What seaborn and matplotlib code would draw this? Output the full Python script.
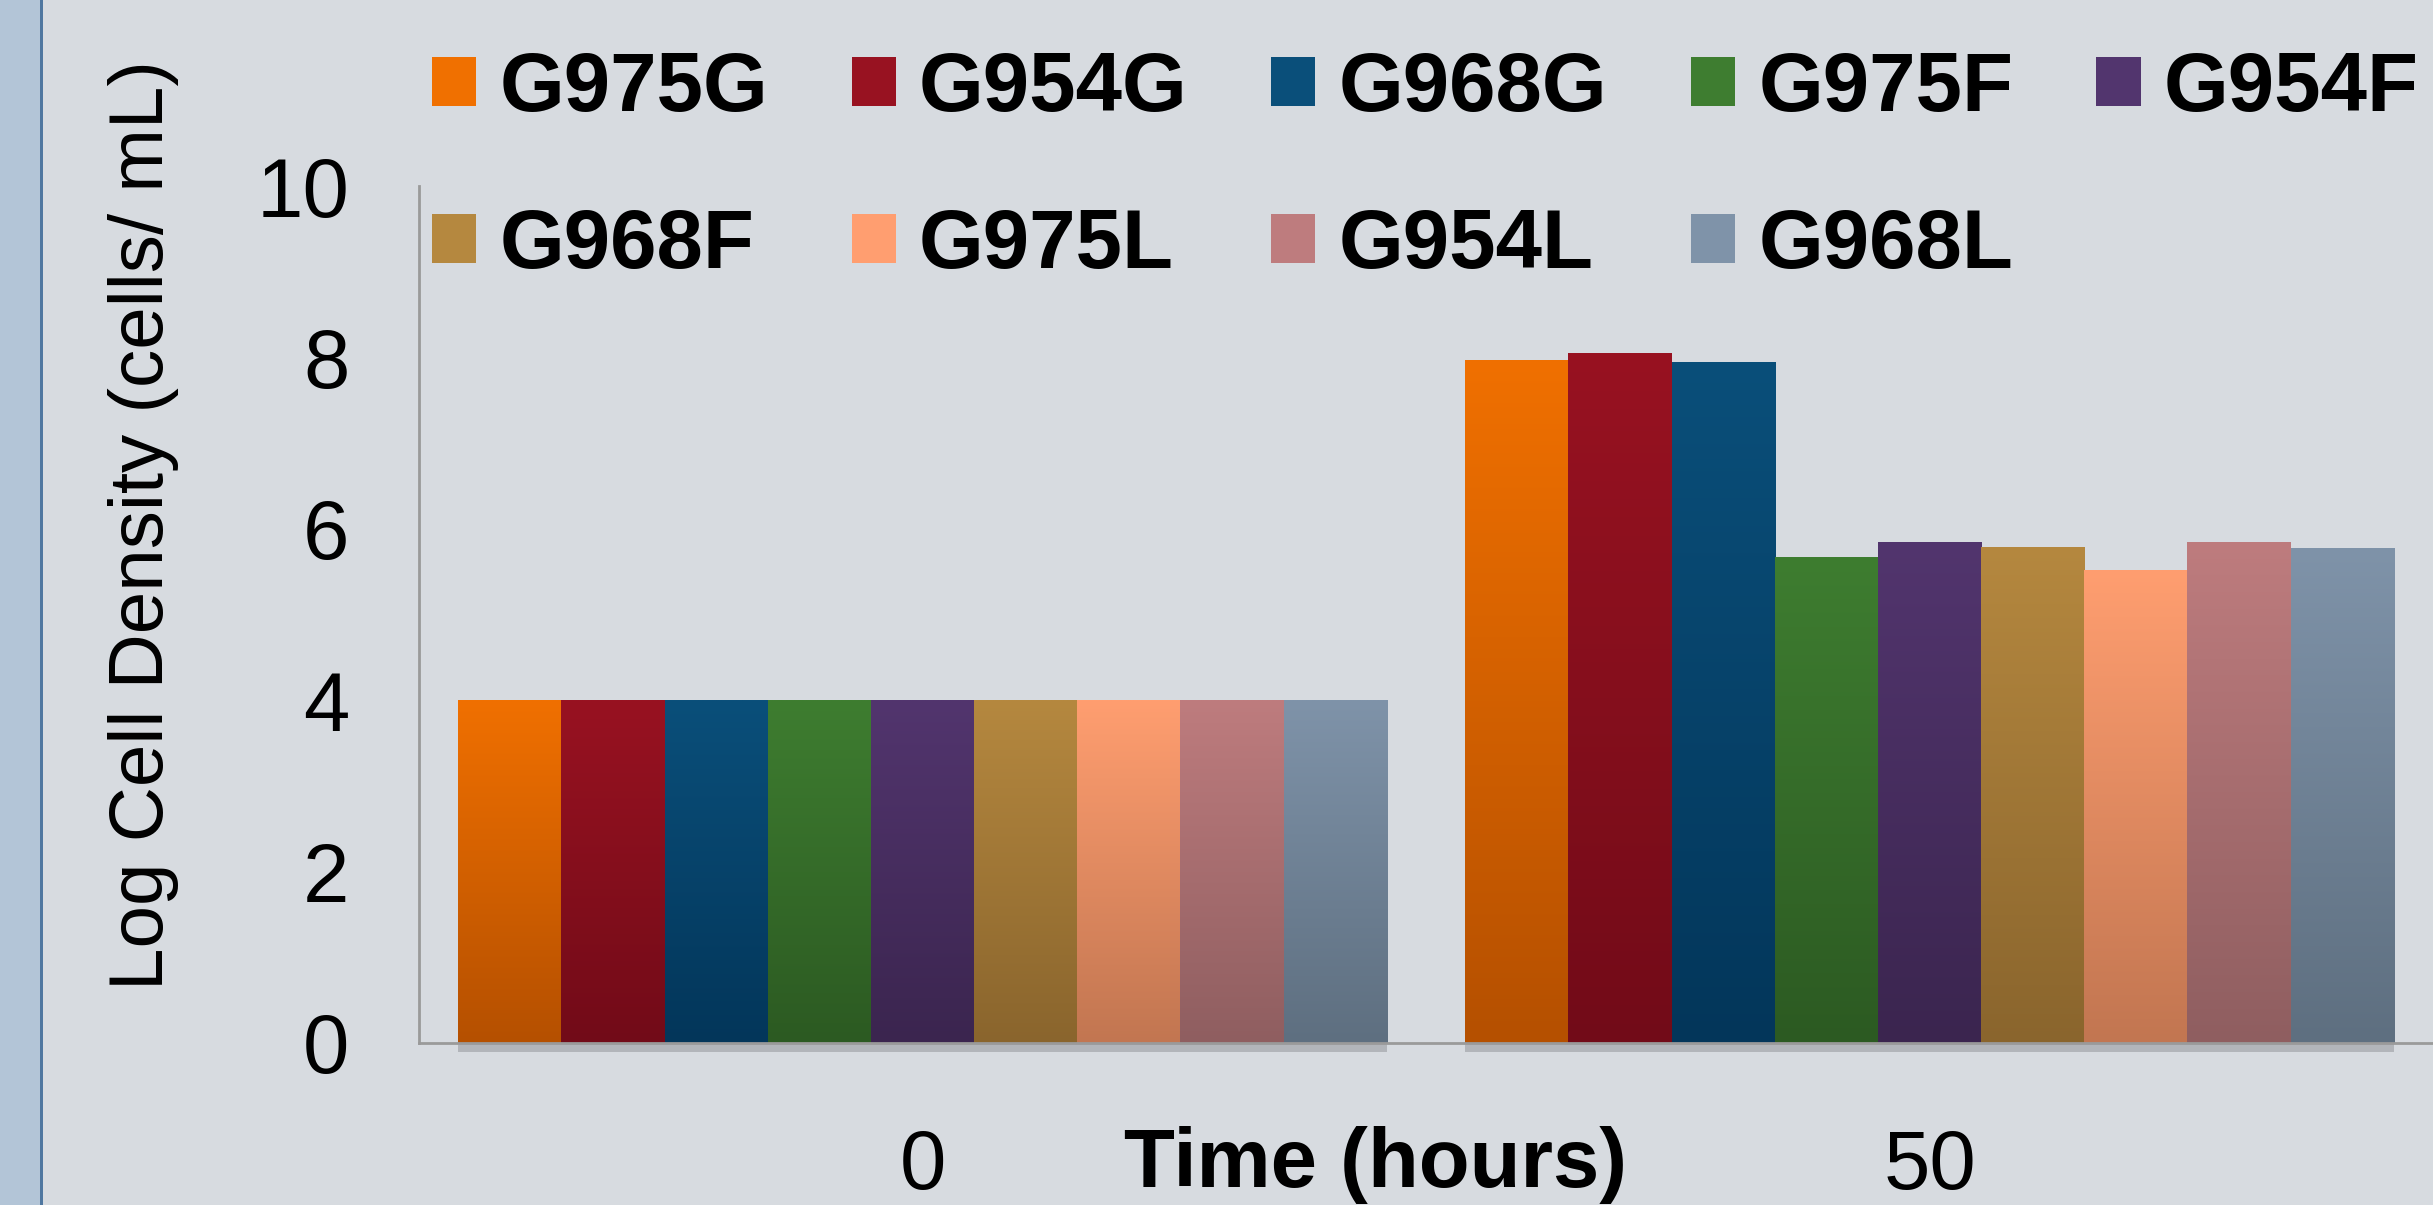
import numpy as np
import matplotlib
matplotlib.use('Agg')
import matplotlib.pyplot as plt
import matplotlib.colors as mcolors
import seaborn as sns
import pandas as pd

# data
times = ['0', '50']
strains = ['G975G', 'G954G', 'G968G', 'G975F', 'G954F',
           'G968F', 'G975L', 'G954L', 'G968L']
density_0h = [4.0, 4.0, 4.0, 4.0, 4.0, 4.0, 4.0, 4.0, 4.0]
density_50h = [7.97, 8.05, 7.95, 5.67, 5.85, 5.79, 5.52, 5.85, 5.78]
y_ticks = [0, 2, 4, 6, 8, 10]

# bar gradient colours (top, bottom)
top_colors = ['#F07000', '#981221', '#0A4F7A', '#3E7D30', '#52356E',
              '#B5883F', '#FF9E70', '#BE7C7E', '#7F93A9']
bottom_colors = ['#B55000', '#720B18', '#03365A', '#2C5A22', '#3B254F',
                 '#8A652D', '#C27651', '#8F5E60', '#5E6F80']

BG = '#D7DBE0'


def main():
    df = pd.DataFrame({
        'time': [times[0]] * len(strains) + [times[1]] * len(strains),
        'strain': strains * 2,
        'density': density_0h + density_50h,
    })

    sns.set_theme(style='white')
    plt.rcParams['font.family'] = ['Liberation Sans', 'DejaVu Sans']
    plt.rcParams['text.color'] = 'black'
    plt.rcParams['axes.labelcolor'] = 'black'

    fig = plt.figure(figsize=(24.33, 12.05), dpi=100, facecolor=BG)
    ax = fig.add_axes([419 / 2433, 1 - 1043 / 1205, 1 - 419 / 2433, (1043 - 186) / 1205])
    ax.set_facecolor(BG)

    # left blue stripe of the slide
    fig.patches.append(plt.Rectangle((0, 0), 40 / 2433, 1, transform=fig.transFigure,
                                     facecolor='#B3C5D7', edgecolor='none', zorder=0))
    fig.patches.append(plt.Rectangle((40 / 2433, 0), 3 / 2433, 1, transform=fig.transFigure,
                                     facecolor='#4F77A0', edgecolor='none', zorder=0))

    sns.barplot(data=df, x='time', y='density', hue='strain', hue_order=strains,
                palette=top_colors, saturation=1, width=0.922, ax=ax,
                edgecolor='none', linewidth=0)

    handles, labels = ax.get_legend_handles_labels()
    if ax.get_legend() is not None:
        ax.get_legend().remove()

    # vertical gradient on each bar, soft shadow under the group
    for i, cont in enumerate(ax.containers):
        cmap = mcolors.LinearSegmentedColormap.from_list(
            'g{}'.format(i), [bottom_colors[i], top_colors[i]])
        for bar in cont:
            x0, y0 = bar.get_x(), bar.get_y()
            w, h = bar.get_width(), bar.get_height()
            grad = np.linspace(0, 1, 256).reshape(-1, 1)
            im = ax.imshow(grad, cmap=cmap, origin='lower', aspect='auto',
                           extent=(x0, x0 + w, y0, y0 + h), zorder=bar.get_zorder() + 0.1)
            im.set_clip_path(bar)
            ax.add_patch(plt.Rectangle((x0, -0.1), w, 0.1, facecolor='#8E9196',
                                       edgecolor='none', alpha=0.5, clip_on=False,
                                       zorder=1))

    ax.set_xlim(-0.5, 1.5)
    ax.set_ylim(0, 10)
    ax.set_yticks(y_ticks)
    ax.set_yticklabels([str(t) for t in y_ticks])

    ax.tick_params(axis='both', length=0, labelsize=60, colors='black')
    ax.tick_params(axis='y', pad=50)
    ax.tick_params(axis='x', pad=61)

    for s in ['top', 'right']:
        ax.spines[s].set_visible(False)
    for s in ['left', 'bottom']:
        ax.spines[s].set_color('#9A9A9A')
        ax.spines[s].set_linewidth(2)

    ax.set_ylabel('')
    ax.set_xlabel('Time (hours)', fontsize=60, fontweight='bold')
    ax.xaxis.label.set_va('baseline')
    ax.xaxis.set_label_coords((1376 - 419) / 2014, (1043 - 1187) / 857)

    fig.text(144 / 2433, 1 - 525 / 1205, 'Log Cell Density (cells/ mL)', rotation=90,
             ha='center', va='center', fontsize=55)

    # legend filled row by row
    order = [0, 5, 1, 6, 2, 7, 3, 8, 4]
    fig.legend([handles[k] for k in order], [labels[k] for k in order], ncol=5,
               loc='upper left', bbox_to_anchor=(432 / 2433, 1 - 50 / 1205), frameon=False,
               borderpad=0, borderaxespad=0, handlelength=0.53, handleheight=0.53,
               handletextpad=0.28, columnspacing=1.0, labelspacing=0.95,
               prop=dict(weight='bold', size=60))

    fig.savefig('out.png', dpi=100, facecolor=BG)


if __name__ == '__main__':
    main()
